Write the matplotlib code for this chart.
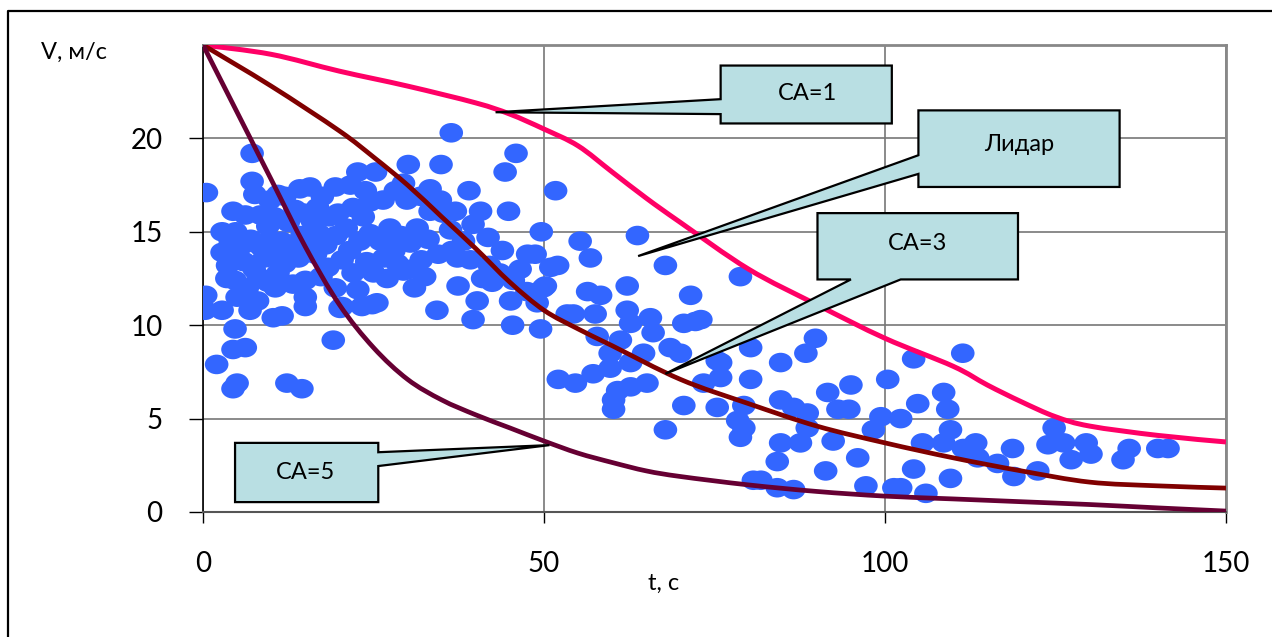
import matplotlib
matplotlib.use("Agg")
import matplotlib.pyplot as plt
from matplotlib.path import Path
from matplotlib.patches import Polygon, PathPatch
from matplotlib.lines import Line2D
from matplotlib.transforms import Affine2D

plt.rcParams['font.family'] = ['Lato', 'DejaVu Sans']

lidar_t = [
    0.5, 0.4, 0.3, 2.0, 2.8, 2.8, 2.8, 3.5, 4.4, 4.7, 5.0, 4.7, 4.4, 5.0, 4.4, 4.0, 4.8, 3.6, 5.0,
    7.2, 7.2, 7.6, 6.2, 8.4, 9.8, 6.9, 6.2, 8.1, 7.0, 8.5, 9.5, 6.0, 7.5, 9.0, 6.5, 9.5, 8.0, 9.8, 5.8,
    11.0, 12.0, 14.2, 10.6, 11.0, 10.3, 11.6, 12.3, 14.5, 15.0, 15.0, 15.0, 10.5, 12.5, 13.5, 11.5,
    13.0, 14.5, 12.0, 14.0, 10.8, 13.2, 14.8,
    15.7, 17.5, 19.4, 18.3, 19.4, 20.1, 19.1, 16.0, 17.0, 18.5, 16.5, 18.0, 19.5, 15.8, 17.3, 16.8, 19.8,
    20.4, 20.4, 21.6, 22.7, 22.7, 23.3, 24.8, 21.0, 22.0, 23.5, 24.5, 21.5, 23.0, 24.5, 22.0, 24.0,
    25.0, 23.8,
    25.3, 25.5, 26.4, 27.4, 26.0, 28.2, 29.4, 29.9, 29.4, 26.5, 28.0, 29.0, 27.0, 28.5, 30.1,
    30.4, 31.4, 31.9, 33.3, 33.3, 34.8, 34.5, 34.3, 34.9, 32.0, 33.0, 30.5, 32.5, 31.0,
    36.4, 35.2, 36.3, 37.3, 37.4, 37.0, 39.0, 39.2, 39.6, 39.6, 38.2, 36.5,
    40.2, 40.7, 41.8, 42.4, 43.9, 44.3, 44.8, 42.0, 43.5, 41.0, 45.9, 45.4, 45.5, 45.1, 47.6, 48.7,
    49.0, 49.5, 49.6, 49.9, 46.5, 47.5,
    51.7, 51.0, 50.2, 52.0, 53.4, 54.3, 55.3, 56.8, 56.4, 58.3, 57.5, 57.8, 59.7, 52.1, 54.6, 57.2, 59.7,
    61.2, 60.8, 60.2, 60.2, 62.2, 62.2, 62.7, 62.7, 62.7, 63.7, 64.6, 65.1, 65.6, 66.0, 67.8, 67.8, 68.5,
    70.0, 70.5, 70.5, 71.5, 72.2, 73.4, 73.0, 75.4, 75.4, 75.9, 75.9, 78.8, 79.3, 78.4, 79.3, 78.8,
    80.3, 80.3, 80.7, 81.8, 84.7, 84.7, 84.7, 84.2, 84.2, 86.6, 86.6, 87.6, 88.4, 88.6, 88.6, 89.8,
    91.6, 91.3, 92.4, 93.1, 94.7, 95.0, 96.0, 97.2, 98.3, 99.4,
    100.4, 101.3, 102.3, 102.3, 104.2, 104.2, 104.8, 105.5, 106.0, 108.6, 108.6, 109.2, 109.6, 109.6,
    111.4, 111.5, 113.3, 113.6, 116.5, 118.7, 118.9, 122.4, 124.8, 123.9, 126.2, 127.3, 129.5, 130.2,
    135.8, 134.9, 140.0, 141.5,
]
lidar_v = [
    17.1, 11.6, 10.8, 7.9, 15.0, 13.9, 10.8, 12.5, 16.1, 12.4, 11.5, 9.8, 8.7, 6.9, 6.6, 14.5, 15.0, 13.2, 13.8,
    19.2, 17.7, 17.0, 15.9, 15.9, 16.7, 10.8, 8.8, 12.6, 14.6, 14.2, 15.3, 13.4, 13.0, 13.6, 12.0, 12.3, 11.3, 14.6, 14.3,
    17.0, 16.9, 17.3, 12.0, 12.8, 10.4, 10.5, 6.9, 6.6, 12.4, 11.5, 11.0, 15.8, 15.5, 16.2, 14.5,
    14.0, 14.8, 13.3, 13.6, 13.7, 12.2, 16.0,
    17.4, 16.9, 17.4, 13.1, 12.0, 10.9, 9.2, 15.6, 14.9, 15.8, 13.8, 14.3, 14.8, 14.2, 12.6, 16.3, 16.0,
    13.5, 11.0, 17.5, 18.2, 11.9, 11.0, 11.1, 15.2, 16.3, 15.8, 16.6, 14.0, 14.5, 14.9, 12.8, 13.4,
    12.8, 17.2,
    18.2, 11.2, 16.7, 15.2, 14.5, 17.2, 17.6, 16.7, 12.9, 13.6, 14.0, 14.8, 12.5, 13.3, 18.6,
    14.4, 15.2, 16.9, 17.3, 16.1, 16.7, 13.8, 10.8, 18.6, 13.5, 14.6, 13.0, 12.6, 12.0,
    20.3, 16.0, 15.1, 13.6, 12.1, 16.1, 17.2, 13.5, 15.4, 10.3, 14.5, 14.0,
    11.3, 16.1, 14.7, 12.3, 14.0, 18.2, 16.1, 13.2, 12.8, 12.5, 19.2, 10.0, 12.4, 11.3, 13.8, 13.8,
    11.2, 9.8, 15.0, 12.0, 13.0, 11.8,
    17.2, 13.1, 12.1, 13.2, 10.6, 10.6, 14.5, 13.6, 11.8, 11.6, 10.6, 9.4, 8.5, 7.1, 6.9, 7.4, 7.7,
    9.2, 6.5, 5.5, 6.0, 12.1, 10.8, 10.1, 8.0, 6.7, 14.8, 8.5, 6.9, 10.4, 9.6, 13.2, 4.4, 8.8,
    8.5, 10.1, 5.7, 11.6, 10.2, 6.9, 10.3, 5.6, 8.1, 8.0, 7.2, 12.6, 5.7, 4.9, 4.5, 4.0,
    8.8, 7.1, 1.7, 1.7, 8.0, 6.0, 3.7, 2.7, 1.3, 5.6, 1.2, 3.7, 8.5, 5.3, 4.5, 9.3,
    6.4, 2.2, 3.8, 5.5, 5.5, 6.8, 2.9, 1.4, 4.4, 5.1,
    7.1, 1.3, 5.0, 1.3, 8.2, 2.3, 5.8, 3.7, 1.0, 6.4, 3.7, 5.5, 4.4, 1.8,
    8.5, 3.4, 3.7, 2.9, 2.6, 3.4, 1.9, 2.2, 4.5, 3.6, 3.7, 2.8, 3.7, 3.1,
    3.4, 2.8, 3.4, 3.4,
]

# model curves for different stability classes
ca1_t = [0, 10, 20, 30, 40, 45, 50, 55, 60, 65, 70, 80, 90, 100, 110, 115, 120, 125, 130, 140, 150]
ca1_v = [25, 24.5, 23.6, 22.8, 21.9, 21.3, 20.5, 19.6, 18.2, 16.8, 15.5, 13.0, 11.1, 9.3, 7.8, 6.8,
         5.9, 5.1, 4.6, 4.1, 3.75]

ca3_t = [0, 10, 20, 25, 30, 35, 40, 45, 50, 55, 60, 70, 80, 90, 100, 110, 120, 130, 140, 150]
ca3_v = [25, 22.8, 20.4, 19.0, 17.5, 15.8, 14.1, 12.3, 10.8, 9.8, 8.9, 7.1, 5.8, 4.6, 3.7, 2.9, 2.2,
         1.6, 1.4, 1.28]

ca5_t = [0, 5, 10, 15, 20, 25, 30, 35, 40, 45, 50, 55, 60, 65, 70, 80, 90, 100, 110, 120, 130, 140, 150]
ca5_v = [25, 21.4, 17.8, 14.2, 11.1, 8.8, 7.1, 6.0, 5.2, 4.5, 3.8, 3.15, 2.65, 2.2, 1.9, 1.45, 1.1,
         0.85, 0.7, 0.55, 0.4, 0.22, 0.05]

x_ticks = [0, 50, 100, 150]
y_ticks = [0, 5, 10, 15, 20]

fig = plt.figure(figsize=(12.72, 6.37), dpi=100)
ax = fig.add_axes([203 / 1272, 1 - 512 / 637, (1226 - 203) / 1272, (512 - 45) / 637])

# outer frame of the picture (only left and top are visible)
fig.add_artist(Line2D([8 / 1272, 8 / 1272, 1.0], [0.0, 1 - 11 / 637, 1 - 11 / 637],
                      transform=fig.transFigure, color='black', lw=1.6))

# ellipse-shaped markers like the Excel ones
ell = Path.unit_circle().transformed(Affine2D().scale(1.0, 0.83))
ax.scatter(lidar_t, lidar_v, s=17 ** 2, marker=ell, color='#3366FF', edgecolors='none', zorder=3)


def smooth_line(xs, ys, color, lw):
    # Excel-like "smoothed line": Catmull-Rom segments as cubic Bezier curves
    pts = list(zip(xs, ys))
    verts = [pts[0]]
    codes = [Path.MOVETO]
    n = len(pts)
    for i in range(n - 1):
        p0 = pts[max(i - 1, 0)]
        p1 = pts[i]
        p2 = pts[i + 1]
        p3 = pts[min(i + 2, n - 1)]
        c1 = (p1[0] + (p2[0] - p0[0]) / 6, p1[1] + (p2[1] - p0[1]) / 6)
        c2 = (p2[0] - (p3[0] - p1[0]) / 6, p2[1] - (p3[1] - p1[1]) / 6)
        verts += [c1, c2, p2]
        codes += [Path.CURVE4] * 3
    ax.add_patch(PathPatch(Path(verts, codes), fill=False, edgecolor=color, lw=lw,
                           capstyle='butt', zorder=4))


smooth_line(ca1_t, ca1_v, '#FF0066', 3.6)
smooth_line(ca3_t, ca3_v, '#800000', 3.4)
smooth_line(ca5_t, ca5_v, '#660033', 3.4)

ax.set_xlim(0, 150)
ax.set_ylim(0, 25)
ax.set_xticks(x_ticks)
ax.set_yticks(y_ticks)
ax.grid(True, color='#777777', lw=1.2, zorder=1)
ax.set_axisbelow(True)
for side in ['top', 'right']:
    ax.spines[side].set_color('#888888')
    ax.spines[side].set_linewidth(2)
ax.spines['bottom'].set_color('#555555')
ax.spines['bottom'].set_linewidth(1.5)
ax.spines['left'].set_color('black')
ax.spines['left'].set_linewidth(1.2)
ax.tick_params(axis='x', direction='out', length=8, width=1, pad=20, labelsize=20)
ax.tick_params(axis='y', direction='out', length=10, width=1, pad=19, labelsize=20)

fig.text(74 / 1272, 1 - 52 / 637, 'V, м/с', fontsize=17, ha='center', va='center')
fig.text(664 / 1272, 1 - 583 / 637, 't, с', fontsize=17, ha='center', va='center')


def callout(box, side, base, tip, label, text_xy):
    t0, t1, v0, v1 = box
    b_lo, b_hi = min(base), max(base)
    if side == 'left':
        pts = [(t0, v1), (t1, v1), (t1, v0), (t0, v0), (t0, b_lo), tip, (t0, b_hi)]
    elif side == 'right':
        pts = [(t0, v0), (t0, v1), (t1, v1), (t1, b_hi), tip, (t1, b_lo), (t1, v0)]
    else:
        pts = [(t0, v1), (t1, v1), (t1, v0), (b_hi, v0), tip, (b_lo, v0), (t0, v0)]
    ax.add_patch(Polygon(pts, closed=True, facecolor='#B9DFE3', edgecolor='black', lw=1.6,
                         zorder=6, clip_on=False, joinstyle='miter'))
    ax.text(text_xy[0], text_xy[1], label, fontsize=17, ha='center', va='center', zorder=7)


callout((75.9, 101.0, 20.8, 23.9), 'left', (21.3, 22.1), (42.9, 21.4), 'CA=1', (88.6, 22.4))
callout((104.9, 134.4, 17.4, 21.5), 'left', (18.1, 19.1), (63.8, 13.7), 'Лидар', (119.6, 19.7))
callout((90.1, 119.5, 12.45, 16.0), 'bottom', (95.0, 102.3), (67.8, 7.4), 'CA=3', (104.8, 14.4))
callout((4.7, 25.7, 0.53, 3.7), 'right', (2.46, 3.2), (50.8, 3.58), 'CA=5', (15.0, 2.14))

fig.savefig('out.png', dpi=100)
